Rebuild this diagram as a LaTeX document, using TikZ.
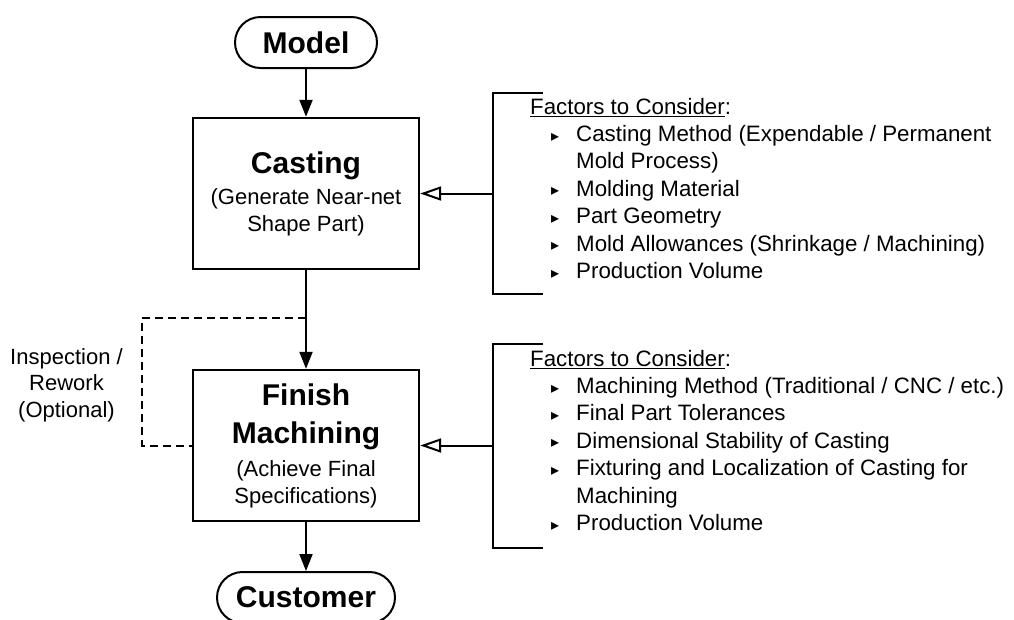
\documentclass[tikz,border=0pt]{standalone}
\usepackage{fontspec}
\setmainfont{Liberation Sans}
\newfontfamily\symfont{DejaVu Sans}
\usetikzlibrary{arrows.meta}

% small triangular bullet and list line helpers
\newcommand{\tribul}{\makebox[25pt][l]{\raisebox{0.5pt}{\symfont\fontsize{16}{16}\selectfont ▸}}}
\newcommand{\itm}[1]{\hspace*{21pt}\tribul #1}
\newcommand{\cont}[1]{\hspace*{46pt}#1}

\begin{document}
\begin{tikzpicture}[x=1pt,y=-1pt,
  terminal/.style={draw, line width=2pt, rounded corners=25.5pt,
    minimum height=51pt, inner sep=0pt,
    font=\fontsize{30}{36}\selectfont\bfseries},
  process/.style={draw, line width=2.4pt, minimum width=226pt,
    minimum height=151pt, inner sep=0pt, align=center,
    font=\fontsize{22}{27}\selectfont},
  flow/.style={line width=2pt, -{Triangle[length=17pt,width=13pt]}},
  feed/.style={line width=2pt, -{Triangle[open,length=21pt,width=14pt,line width=2pt]}},
  bracketline/.style={line width=2pt},
  loopline/.style={line width=2pt, dash pattern=on 8pt off 5pt},
  factors/.style={align=left, inner sep=0pt, anchor=base west,
    font=\fontsize{22.3}{27.4}\selectfont},
  note/.style={align=center, inner sep=0pt, font=\fontsize{22}{26.5}\selectfont}
]
\useasboundingbox (0,0) rectangle (1014,619);

% main flow
\node[terminal, minimum width=142pt] (model) at (306,42.5) {Model};
\node[process] (casting) at (306,193.5)
  {{\fontsize{30}{36}\selectfont\bfseries Casting}\\[4pt]
   (Generate Near-net\\Shape Part)};
\node[process] (finish) at (306,445.5)
  {{\fontsize{30}{36}\selectfont\bfseries Finish}\\[11pt]
   {\fontsize{30}{36}\selectfont\bfseries Machining}\\[6pt]
   (Achieve Final\\Specifications)};
\node[terminal, minimum width=178pt] (customer) at (306,597.5) {Customer};

\draw[flow] (model) -- (casting);
\draw[flow] (casting) -- (finish);
\draw[flow] (finish) -- (customer);

% optional inspection / rework loop
\coordinate (looptop) at (306,318);
\coordinate (loopleft) at (142,380);
\draw[loopline] (looptop) -| (loopleft) |- (finish.west);
\node[note] (inspect) at (66.5,385) {Inspection /\\Rework\\(Optional)};

% factor brackets (the base anchor sits on the last line)
\coordinate (br1) at (493,193.5);
\draw[bracketline] (543,93) -- (493,93) -- (493,294) -- (543,294);
\draw[feed] (br1) -- (casting.east);
\node[factors] (fac1) at (530,278.5)
  {\underline{Factors to Consider}:\\
   \itm{Casting Method (Expendable / Permanent}\\
   \cont{Mold Process)}\\
   \itm{Molding Material}\\
   \itm{Part Geometry}\\
   \itm{Mold Allowances (Shrinkage / Machining)}\\
   \itm{Production Volume}};

\coordinate (br2) at (493,445.5);
\draw[bracketline] (543,344) -- (493,344) -- (493,548) -- (543,548);
\draw[feed] (br2) -- (finish.east);
\node[factors] (fac2) at (530,530.5)
  {\underline{Factors to Consider}:\\
   \itm{Machining Method (Traditional / CNC / etc.)}\\
   \itm{Final Part Tolerances}\\
   \itm{Dimensional Stability of Casting}\\
   \itm{Fixturing and Localization of Casting for}\\
   \cont{Machining}\\
   \itm{Production Volume}};
\end{tikzpicture}
\end{document}
